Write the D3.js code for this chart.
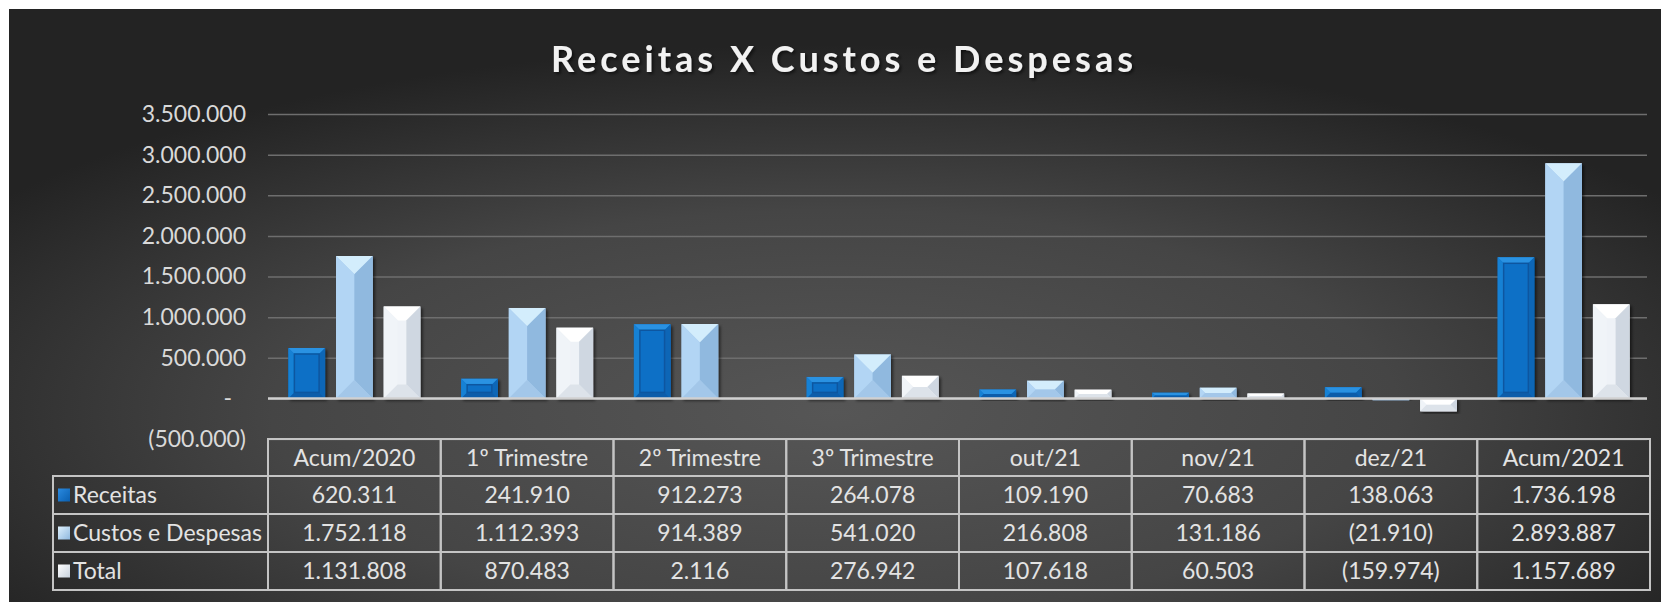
<!DOCTYPE html>
<html>
<head>
<meta charset="utf-8">
<script src="https://cdn.jsdelivr.net/npm/d3@7"></script>
<style>
  body { margin: 0; background: #fff; }
  svg { display: block; font-family: Lato, "Open Sans", sans-serif; }
</style>
</head>
<body>
<div id="chart"></div>
<script>
// chart data
var categories = ["Acum/2020", "1º Trimestre", "2º Trimestre", "3º Trimestre", "out/21", "nov/21", "dez/21", "Acum/2021"];
var seriesNames = ["Receitas", "Custos e Despesas", "Total"];
var receitas = [620311, 241910, 912273, 264078, 109190, 70683, 138063, 1736198];
var custos = [1752118, 1112393, 914389, 541020, 216808, 131186, -21910, 2893887];
var total = [1131808, 870483, 2116, 276942, 107618, 60503, -159974, 1157689];
var yTicks = [-500000, 0, 500000, 1000000, 1500000, 2000000, 2500000, 3000000, 3500000];

var seriesValues = [receitas, custos, total];

var svgWidth = 1661;
var svgHeight = 602;

// plot area
var plotLeft = 268, plotRight = 1650, plotTop = 114, plotBottom = 439;
// table rows
var rowTops = [439, 476, 514, 552, 590];
var labelLeft = 53;

// pt-BR style numbers, negatives in brackets, zero as dash
var br = d3.formatLocale({decimal: ",", thousands: ".", grouping: [3], currency: ["R$", ""]});
var fmtInt = br.format(",d");
function fmtAcc(v) {
  if (v === 0) return "-";
  return v < 0 ? "(" + fmtInt(-v) + ")" : fmtInt(v);
}

var svg = d3.select("#chart")
  .append("svg")
  .attr("width", svgWidth)
  .attr("height", svgHeight);

var defs = svg.append("defs");

var bg = defs.append("radialGradient")
  .attr("id", "bgGrad")
  .attr("cx", 0.5).attr("cy", 0.68).attr("r", 0.62);
bg.append("stop").attr("offset", "0%").attr("stop-color", "#565656");
bg.append("stop").attr("offset", "55%").attr("stop-color", "#454545");
bg.append("stop").attr("offset", "100%").attr("stop-color", "#232323");

var shadow = defs.append("filter").attr("id", "shadow")
  .attr("x", "-20%").attr("y", "-20%").attr("width", "140%").attr("height", "140%");
shadow.append("feDropShadow")
  .attr("dx", 2).attr("dy", 2).attr("stdDeviation", 1.5)
  .attr("flood-color", "#000").attr("flood-opacity", 0.55);

var keyGrad = [["#2a8ae0", "#0a5fb0"], ["#dff1fd", "#8fb8de"], ["#ffffff", "#c9d3de"]];
keyGrad.forEach(function (c, i) {
  var g = defs.append("linearGradient").attr("id", "key" + i)
    .attr("x1", 0).attr("y1", 0).attr("x2", 1).attr("y2", 1);
  g.append("stop").attr("offset", "0%").attr("stop-color", c[0]);
  g.append("stop").attr("offset", "100%").attr("stop-color", c[1]);
});

// background
svg.append("rect")
  .attr("x", 9).attr("y", 9)
  .attr("width", svgWidth - 9).attr("height", svgHeight - 9)
  .attr("fill", "url(#bgGrad)");

// title
svg.append("text")
  .attr("x", 842)
  .attr("y", 72)
  .attr("text-anchor", "middle")
  .attr("font-size", 36)
  .attr("font-weight", "bold")
  .attr("fill", "#f2f2f2")
  .attr("textLength", 582)
  .attr("lengthAdjust", "spacing")
  .attr("filter", "url(#shadow)")
  .text("Receitas X Custos e Despesas");

// scales
var x0 = d3.scaleBand()
  .domain(categories)
  .range([plotLeft, plotRight])
  .paddingInner(0)
  .paddingOuter(0);

var groupOffset = 20.4;
var x1 = d3.scaleBand()
  .domain(seriesNames)
  .range([groupOffset, x0.bandwidth() - groupOffset])
  .paddingInner(0.23);

var y = d3.scaleLinear()
  .domain([-500000, 3500000])
  .range([plotBottom, plotTop]);

// y axis with gridlines
var yAxis = d3.axisLeft(y)
  .tickValues(yTicks)
  .tickFormat(fmtAcc)
  .tickSize(-(plotRight - 3 - plotLeft))
  .tickPadding(22);

var axisG = svg.append("g")
  .attr("transform", `translate(${plotLeft},0)`)
  .call(yAxis);

axisG.select(".domain").remove();
axisG.selectAll(".tick line")
  .attr("stroke", "#6e6e6e")
  .attr("stroke-width", 1.5);
axisG.selectAll(".tick text")
  .attr("fill", "#d9d9d9")
  .attr("font-size", 23)
  .attr("font-family", "Lato, 'Open Sans', sans-serif")
  .attr("dx", d => d === 0 ? -14 : 0);

// bar styles: facet colours [top, left, right, bottom, centre], bevel depth
var barStyles = [
  {facets: ["#2a92e2", "#1881d4", "#0a66b6", "#095daa", "#0b70c6"], bevel: 6, stroke: "#0856a0"},
  {facets: ["#d3edfc", "#b2d5f4", "#90b9df", "#a3c7e9", "#abcff0"], bevel: 99, stroke: null},
  {facets: ["#ffffff", "#f0f4f8", "#cfd7e1", "#dde3ea", "#eef2f7"], bevel: 14, stroke: null}
];

function drawBar(g, bx, by, bw, bh, style) {
  var d = Math.min(style.bevel, bw / 2, bh / 2);
  var polys = [
    [[bx, by], [bx + bw, by], [bx + bw - d, by + d], [bx + d, by + d]],
    [[bx, by], [bx + d, by + d], [bx + d, by + bh - d], [bx, by + bh]],
    [[bx + bw, by], [bx + bw - d, by + d], [bx + bw - d, by + bh - d], [bx + bw, by + bh]],
    [[bx, by + bh], [bx + d, by + bh - d], [bx + bw - d, by + bh - d], [bx + bw, by + bh]]
  ];
  var bar = g.append("g").attr("filter", "url(#shadow)");
  bar.append("rect")
    .attr("x", bx).attr("y", by).attr("width", bw).attr("height", bh)
    .attr("fill", style.facets[4]);
  polys.forEach(function (p, k) {
    bar.append("polygon")
      .attr("points", p.map(q => q.join(",")).join(" "))
      .attr("fill", style.facets[k]);
  });
  if (style.stroke && bw - 2 * d > 0 && bh - 2 * d > 0) {
    bar.append("rect")
      .attr("x", bx + d).attr("y", by + d)
      .attr("width", bw - 2 * d).attr("height", bh - 2 * d)
      .attr("fill", style.facets[4])
      .attr("stroke", style.stroke)
      .attr("stroke-width", 1.5);
  }
}

var barsGroup = svg.append("g");
categories.forEach(function (cat, i) {
  seriesNames.forEach(function (name, s) {
    var v = seriesValues[s][i];
    var top = y(Math.max(v, 0));
    var h = Math.abs(y(v) - y(0));
    if (h < 0.5) return;
    drawBar(barsGroup, x0(cat) + x1(name), top, x1.bandwidth(), h, barStyles[s]);
  });
});

// zero line
svg.append("line")
  .attr("x1", plotLeft).attr("x2", plotRight - 3)
  .attr("y1", y(0)).attr("y2", y(0))
  .attr("stroke", "#d0d0d0")
  .attr("stroke-width", 2.5);

// data table
var table = svg.append("g")
  .attr("fill", "none")
  .attr("stroke", "#c4c4c4")
  .attr("stroke-width", 2);

// header cells
categories.forEach(function (cat) {
  table.append("rect")
    .attr("x", x0(cat)).attr("y", rowTops[0])
    .attr("width", x0.bandwidth()).attr("height", rowTops[1] - rowTops[0]);
});
// series rows
seriesNames.forEach(function (name, s) {
  var top = rowTops[s + 1], h = rowTops[s + 2] - top;
  table.append("rect")
    .attr("x", labelLeft).attr("y", top)
    .attr("width", plotLeft - labelLeft).attr("height", h);
  categories.forEach(function (cat) {
    table.append("rect")
      .attr("x", x0(cat)).attr("y", top)
      .attr("width", x0.bandwidth()).attr("height", h);
  });
});

var tableText = svg.append("g")
  .attr("fill", "#e3e3e3")
  .attr("font-size", 23);

categories.forEach(function (cat) {
  tableText.append("text")
    .attr("x", x0(cat) + x0.bandwidth() / 2)
    .attr("y", (rowTops[0] + rowTops[1]) / 2 + 8)
    .attr("text-anchor", "middle")
    .text(cat);
});

seriesNames.forEach(function (name, s) {
  var mid = (rowTops[s + 1] + rowTops[s + 2]) / 2;
  svg.append("rect")
    .attr("x", 58).attr("y", mid - 6.5)
    .attr("width", 12).attr("height", 13)
    .attr("fill", "url(#key" + s + ")");
  tableText.append("text")
    .attr("x", 73)
    .attr("y", mid + 8)
    .text(name);
  categories.forEach(function (cat, i) {
    tableText.append("text")
      .attr("x", x0(cat) + x0.bandwidth() / 2)
      .attr("y", mid + 8)
      .attr("text-anchor", "middle")
      .text(fmtAcc(seriesValues[s][i]));
  });
});
</script>
</body>
</html>
